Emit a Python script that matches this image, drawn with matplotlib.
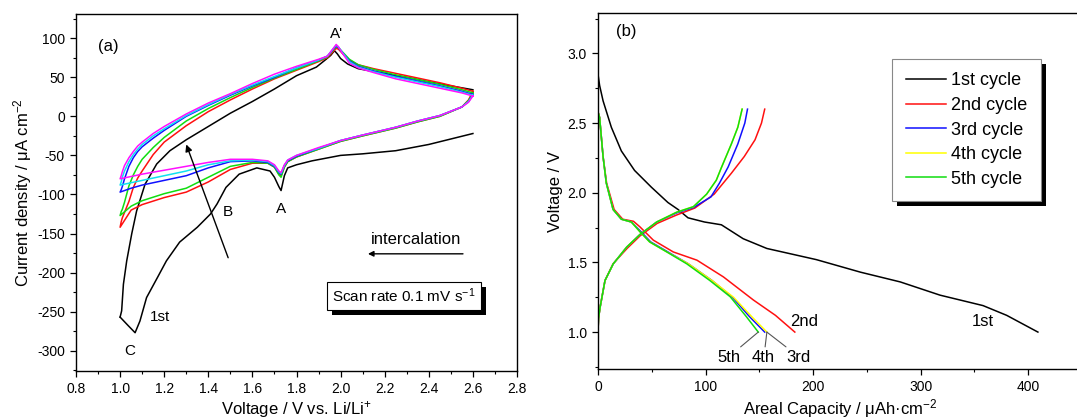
import matplotlib
matplotlib.use("Agg")
import matplotlib.pyplot as plt
from matplotlib.patches import Rectangle
from matplotlib.ticker import MultipleLocator

plt.rcParams["font.family"] = ["Liberation Sans", "DejaVu Sans"]
plt.rcParams["mathtext.fontset"] = "custom"
plt.rcParams["mathtext.rm"] = "Liberation Sans"
plt.rcParams["mathtext.it"] = "Liberation Sans:italic"
plt.rcParams["mathtext.default"] = "regular"
plt.rcParams["axes.unicode_minus"] = False

# ---------------- (a) cyclic voltammetry ----------------
# first cycle (black): cathodic sweep 2.6 -> 1.0, then anodic 1.0 -> 2.6
cv1_cath_v = [2.60, 2.50, 2.40, 2.25, 2.10, 2.00, 1.87, 1.80, 1.76, 1.745, 1.73, 1.72,
              1.70, 1.68, 1.62, 1.54, 1.48, 1.44, 1.41, 1.35, 1.27, 1.21, 1.17, 1.12,
              1.09, 1.068, 1.037, 1.00]
cv1_cath_i = [-22, -29, -36, -44, -48, -50, -57, -62, -66, -76, -95, -90,
              -78, -70, -66, -74, -91, -112, -125, -142, -161, -185, -206, -232,
              -262, -277, -268, -257]
cv1_anod_v = [1.00, 1.007, 1.015, 1.03, 1.053, 1.075, 1.113, 1.166, 1.226, 1.30, 1.40,
              1.50, 1.60, 1.70, 1.80, 1.89, 1.934, 1.955, 1.972, 1.985, 2.00, 2.032,
              2.08, 2.176, 2.30, 2.403, 2.50, 2.60]
cv1_anod_i = [-257, -249, -215, -185, -150, -121, -87, -61, -44, -30, -13,
              4, 19, 35, 52, 63, 73, 78, 84, 80, 74, 67,
              61, 56, 50, 44, 39, 34]

# later cycles share the voltage grids
cv_cath_v = [2.60, 2.58, 2.55, 2.45, 2.35, 2.25, 2.10, 2.00, 1.90, 1.80, 1.76, 1.745,
             1.73, 1.72, 1.70, 1.67, 1.60, 1.50, 1.40, 1.30, 1.20, 1.10, 1.05, 1.00]
cv_anod_v = [1.00, 1.005, 1.01, 1.02, 1.04, 1.06, 1.08, 1.10, 1.15, 1.20, 1.30, 1.40,
             1.50, 1.60, 1.70, 1.80, 1.90, 1.94, 1.97, 1.98, 1.99, 2.01, 2.04, 2.08,
             2.15, 2.25, 2.35, 2.45, 2.55, 2.60]

cv_red_cath = [32, 21, 12, 0, -7, -15, -25, -32, -42, -52, -58, -65,
               -76, -74, -65, -60, -60, -68, -84, -97, -104, -113, -120, -142]
cv_red_anod = [-142, -135, -130, -123, -109, -91, -79, -70, -49, -33, -12, 6,
               21, 35, 48, 59, 70, 75, 84, 87, 86, 80, 72, 66,
               61, 55, 49, 43, 36, 32]
cv_green_cath = [30, 20, 12, 0, -7, -15, -25, -32, -42, -52, -58, -65,
                 -78, -75, -65, -60, -59, -64, -78, -92, -99, -108, -115, -127]
cv_green_anod = [-127, -122, -119, -110, -89, -75, -64, -55, -40, -27, -6, 10,
                 24, 37, 49, 60, 71, 76, 86, 89, 88, 82, 73, 66,
                 60, 53, 47, 41, 34, 30]
cv_blue_cath = [28, 19, 12, 1, -6, -14, -24, -31, -41, -51, -57, -63,
                -74, -72, -64, -59, -57, -58, -66, -76, -82, -88, -92, -97]
cv_blue_anod = [-97, -94, -90, -80, -64, -53, -45, -39, -28, -18, 0, 14,
                27, 39, 50, 62, 72, 77, 87, 90, 88, 81, 71, 64,
                58, 51, 45, 39, 32, 28]
cv_cyan_cath = [27, 19, 12, 1, -6, -14, -24, -31, -41, -50, -56, -63,
                -73, -71, -63, -58, -56, -57, -62, -70, -76, -82, -85, -88]
cv_cyan_anod = [-88, -84, -78, -70, -58, -49, -42, -36, -25, -16, 1, 15,
                28, 40, 51, 62, 72, 77, 88, 91, 89, 81, 70, 63,
                57, 50, 44, 38, 31, 27]
cv_mag_cath = [26, 18, 12, 1, -6, -14, -24, -31, -40, -50, -56, -62,
               -72, -70, -62, -57, -55, -55, -59, -64, -69, -74, -77, -80]
cv_mag_anod = [-80, -76, -71, -63, -53, -45, -38, -33, -22, -13, 3, 17,
               29, 42, 54, 64, 73, 77, 88, 92, 89, 80, 68, 62,
               56, 48, 42, 36, 30, 26]

# ---------------- (b) galvanostatic curves ----------------
gc1_dis_q = [0, 1.5, 4.7, 12.4, 21.7, 34, 49.6, 65, 74.4, 83.7, 99, 114.7, 135, 157,
             203, 244, 281, 318, 358, 380, 409]
gc1_dis_v = [2.85, 2.77, 2.66, 2.47, 2.30, 2.16, 2.04, 1.93, 1.88, 1.82, 1.79, 1.77,
             1.67, 1.60, 1.52, 1.43, 1.36, 1.265, 1.19, 1.12, 1.00]

gc2_dis_q = [0, 1.5, 4.7, 8, 15, 23, 33, 39, 51.4, 70, 92, 116.6, 144.5, 165, 183]
gc2_dis_v = [2.58, 2.54, 2.26, 2.07, 1.88, 1.81, 1.795, 1.755, 1.66, 1.575, 1.516,
             1.396, 1.23, 1.12, 1.00]
gc2_chg_q = [0, 0.5, 2, 6.5, 14, 27, 39, 55, 73, 90, 108, 124, 136, 146, 152, 155]
gc2_chg_v = [1.00, 1.10, 1.18, 1.37, 1.49, 1.60, 1.69, 1.78, 1.84, 1.89, 1.99, 2.14,
             2.26, 2.38, 2.50, 2.60]

gc3_dis_q = [0, 1.5, 4.7, 7.7, 14, 21.7, 31, 40, 49, 65, 84, 106, 125, 141, 155]
gc3_dis_v = [2.58, 2.54, 2.26, 2.07, 1.88, 1.81, 1.79, 1.72, 1.647, 1.575, 1.49,
             1.37, 1.25, 1.11, 1.00]
gc3_chg_q = [0, 0.5, 2, 6.5, 14.2, 26.7, 39, 54.6, 73, 89, 105, 113, 121, 130, 136.5, 139]
gc3_chg_v = [1.00, 1.10, 1.18, 1.37, 1.49, 1.61, 1.70, 1.79, 1.855, 1.895, 1.97, 2.07,
             2.185, 2.35, 2.50, 2.60]

gc4_dis_q = [0, 1.5, 4.7, 7.7, 14, 21.7, 31, 39, 48, 64, 84, 106, 126, 143, 157]
gc4_dis_v = [2.58, 2.54, 2.26, 2.07, 1.88, 1.81, 1.79, 1.72, 1.647, 1.575, 1.49,
             1.37, 1.25, 1.11, 1.00]
gc4_chg_q = [0, 0.5, 2, 6.5, 14.2, 26.7, 39, 54.6, 73, 88.7, 101, 110, 114.7, 124, 130, 134]
gc4_chg_v = [1.00, 1.10, 1.18, 1.37, 1.49, 1.61, 1.70, 1.79, 1.86, 1.90, 1.99, 2.09,
             2.18, 2.35, 2.47, 2.60]

gc5_dis_q = [0, 1.5, 4.7, 7.7, 14, 21.7, 31, 39, 48, 64, 82.5, 104, 123, 138, 149]
gc5_dis_v = [2.58, 2.54, 2.26, 2.07, 1.88, 1.81, 1.79, 1.72, 1.647, 1.575, 1.49,
             1.37, 1.253, 1.11, 1.00]
gc5_chg_q = [0, 0.5, 2, 6.5, 14.2, 26.7, 39, 54.6, 73, 88.7, 101, 110, 114.7, 124, 130, 134]
gc5_chg_v = [1.00, 1.10, 1.18, 1.37, 1.49, 1.61, 1.70, 1.79, 1.86, 1.90, 1.99, 2.09,
             2.18, 2.35, 2.47, 2.60]

cycle_labels = ["1st cycle", "2nd cycle", "3rd cycle", "4th cycle", "5th cycle"]

RED, GREEN, BLUE, CYAN, MAG, YEL = "#ff1010", "#10dd10", "#1010ff", "#10e0f0", "#ff10ff", "#ffff00"


def style_axes(ax):
    ax.tick_params(which="both", direction="out", top=False, right=False, labelsize=10)
    ax.tick_params(which="major", length=4.5, width=0.9)
    ax.tick_params(which="minor", length=2.5, width=0.8)
    for s in ax.spines.values():
        s.set_linewidth(1.0)


def add_shadow(ax, bb, dx=5, dy=5):
    ax.add_patch(Rectangle((bb.x0 + dx, bb.y0 - dy), bb.width, bb.height, transform=None,
                           facecolor="black", edgecolor="none", zorder=4, clip_on=False))


fig = plt.figure(figsize=(10.77, 4.19), dpi=100)
ax1 = fig.add_axes([76 / 1077, 48 / 419, 441 / 1077, 357 / 419])
ax2 = fig.add_axes([598 / 1077, 50 / 419, 484 / 1077, 356 / 419])

# (a)
lw = 1.1
ax1.plot(cv1_cath_v, cv1_cath_i, color="black", lw=lw)
ax1.plot(cv1_anod_v, cv1_anod_i, color="black", lw=lw)
for cath, anod, c in [(cv_red_cath, cv_red_anod, RED), (cv_green_cath, cv_green_anod, GREEN),
                      (cv_blue_cath, cv_blue_anod, BLUE), (cv_cyan_cath, cv_cyan_anod, CYAN),
                      (cv_mag_cath, cv_mag_anod, MAG)]:
    ax1.plot(cv_cath_v + cv_anod_v, cath + anod, color=c, lw=lw)

ax1.set_xlim(0.8, 2.8)
ax1.set_ylim(-326, 131)
ax1.xaxis.set_major_locator(MultipleLocator(0.2))
ax1.xaxis.set_minor_locator(MultipleLocator(0.1))
ax1.yaxis.set_major_locator(MultipleLocator(50))
ax1.yaxis.set_minor_locator(MultipleLocator(25))
style_axes(ax1)
ax1.set_xlabel("Voltage / V vs. Li/Li$^{+}$", fontsize=12, labelpad=2)
ax1.set_ylabel("Current density / μA cm$^{-2}$", fontsize=12, labelpad=2)

ax1.text(0.945, 89, "(a)", fontsize=12, ha="center", va="center")
ax1.text(1.98, 106, "A'", fontsize=11, ha="center", va="center")
ax1.text(1.73, -118, "A", fontsize=11, ha="center", va="center")
ax1.text(1.49, -123, "B", fontsize=11, ha="center", va="center")
ax1.text(1.045, -300, "C", fontsize=11, ha="center", va="center")
ax1.text(1.18, -257, "1st", fontsize=11, ha="center", va="center")
ax1.annotate("", xy=(1.30, -36), xytext=(1.49, -181),
             arrowprops=dict(arrowstyle="-|>", color="black", lw=1.0, mutation_scale=10,
                             shrinkA=0, shrinkB=0))
ax1.text(2.34, -158, "intercalation", fontsize=12, ha="center", va="center")
ax1.annotate("", xy=(2.124, -176), xytext=(2.555, -176),
             arrowprops=dict(arrowstyle="-|>", color="black", lw=1.0, mutation_scale=8,
                             shrinkA=0, shrinkB=0))
scan_txt = ax1.text(2.288, -230, "Scan rate 0.1 mV s$^{-1}$", fontsize=11, ha="center",
                    va="center", zorder=5,
                    bbox=dict(boxstyle="square,pad=0.32", facecolor="white",
                              edgecolor="black", lw=0.8))

# (b)
lw2 = 1.1
ax2.plot(gc1_dis_q, gc1_dis_v, color="black", lw=lw2, label=cycle_labels[0])
ax2.plot(gc2_dis_q, gc2_dis_v, color=RED, lw=lw2, label=cycle_labels[1])
ax2.plot(gc2_chg_q, gc2_chg_v, color=RED, lw=lw2)
ax2.plot(gc3_dis_q, gc3_dis_v, color=BLUE, lw=lw2, label=cycle_labels[2])
ax2.plot(gc3_chg_q, gc3_chg_v, color=BLUE, lw=lw2)
ax2.plot(gc4_dis_q, gc4_dis_v, color=YEL, lw=lw2, label=cycle_labels[3])
ax2.plot(gc4_chg_q, gc4_chg_v, color=YEL, lw=lw2)
ax2.plot(gc5_dis_q, gc5_dis_v, color=GREEN, lw=lw2, label=cycle_labels[4])
ax2.plot(gc5_chg_q, gc5_chg_v, color=GREEN, lw=lw2)

ax2.set_xlim(0, 450)
ax2.set_ylim(0.735, 3.29)
ax2.xaxis.set_major_locator(MultipleLocator(100))
ax2.xaxis.set_minor_locator(MultipleLocator(50))
ax2.yaxis.set_major_locator(MultipleLocator(0.5))
ax2.yaxis.set_minor_locator(MultipleLocator(0.25))
style_axes(ax2)
ax2.set_xlabel("Areal Capacity / μAh·cm$^{-2}$", fontsize=12, labelpad=2)
ax2.set_ylabel("Voltage / V", fontsize=12, labelpad=3)

ax2.text(26, 3.16, "(b)", fontsize=12, ha="center", va="center")
ax2.text(192, 1.075, "2nd", fontsize=12, ha="center", va="center")
ax2.text(358, 1.075, "1st", fontsize=12, ha="center", va="center")
lead = dict(arrowstyle="-", color="#555555", lw=0.8, shrinkA=0, shrinkB=0)
ax2.annotate("5th", xy=(gc5_dis_q[-1], gc5_dis_v[-1]), xytext=(122, 0.82), fontsize=12,
             ha="center", va="center", arrowprops=dict(relpos=(0.85, 1.0), **lead))
ax2.annotate("4th", xy=(gc4_dis_q[-1], gc4_dis_v[-1]), xytext=(154, 0.82), fontsize=12,
             ha="center", va="center", arrowprops=dict(relpos=(0.55, 1.0), **lead))
ax2.annotate("3rd", xy=(gc3_dis_q[-1] + 2, gc3_dis_v[-1]), xytext=(186, 0.82), fontsize=12,
             ha="center", va="center", arrowprops=dict(relpos=(0.15, 1.0), **lead))

leg = ax2.legend(loc="upper left", bbox_to_anchor=(0.608, 0.871), borderaxespad=0,
                 fontsize=13, handlelength=2.2, handletextpad=0.3, labelspacing=0.42,
                 borderpad=0.75, fancybox=False, framealpha=1, edgecolor="#888888")
leg.get_frame().set_linewidth(0.8)

fig.canvas.draw()
add_shadow(ax2, leg.get_frame().get_window_extent(), dx=5, dy=5)
add_shadow(ax1, scan_txt.get_bbox_patch().get_window_extent(), dx=5, dy=5)

fig.savefig("out.png", dpi=100)
